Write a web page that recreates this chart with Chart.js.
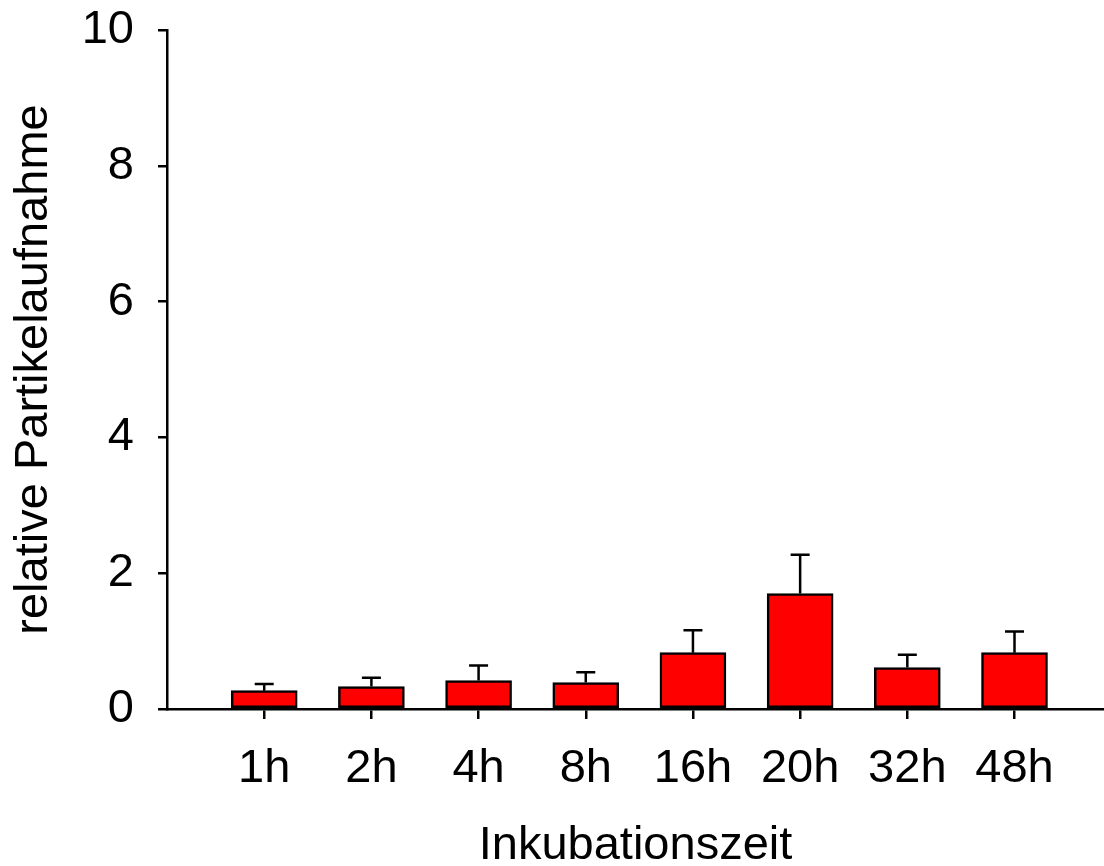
<!DOCTYPE html>
<html lang="de">
<head>
<meta charset="UTF-8">
<title>Partikelaufnahme</title>
<script src="https://cdn.jsdelivr.net/npm/chart.js@4.4.0/dist/chart.umd.min.js"></script>
<style>
  body { margin: 0; background: #fff; }
  canvas { display: block; }
</style>
</head>
<body>
<canvas id="myChart" width="1104" height="866"></canvas>
<script>
// data
const labels = ['1h', '2h', '4h', '8h', '16h', '20h', '32h', '48h'];
const means = [0.27, 0.33, 0.42, 0.39, 0.83, 1.70, 0.61, 0.83];
const errUp = [0.10, 0.13, 0.22, 0.15, 0.33, 0.57, 0.19, 0.31];
const yTicks = [0, 2, 4, 6, 8, 10];

const fontFam = "'Liberation Sans', Arial, sans-serif";

// error bars (upper only), drawn through the chart's scales
const errorBars = {
  id: 'errorBars',
  afterDatasetsDraw(chart) {
    const ctx = chart.ctx;
    const x = chart.scales.x, y = chart.scales.y;
    ctx.save();
    ctx.strokeStyle = '#000';
    ctx.lineWidth = 2.5;
    means.forEach((m, i) => {
      const px = x.getPixelForValue(i + 1);
      const y0 = y.getPixelForValue(m);
      const y1 = y.getPixelForValue(m + errUp[i]);
      ctx.beginPath();
      ctx.moveTo(px, y0);
      ctx.lineTo(px, y1);
      ctx.moveTo(px - 9.5, y1);
      ctx.lineTo(px + 9.5, y1);
      ctx.stroke();
    });
    ctx.restore();
  }
};

const ctx = document.getElementById('myChart').getContext('2d');
new Chart(ctx, {
  type: 'bar',
  data: {
    datasets: [{
      data: means.map((m, i) => ({ x: i + 1, y: m })),
      backgroundColor: '#ff0000',
      borderColor: '#000',
      borderWidth: 2.5,
      borderSkipped: false,
      barThickness: 66
    }]
  },
  options: {
    responsive: false,
    animation: false,
    events: [],
    layout: { autoPadding: false, padding: { top: 30, right: 0, left: 0, bottom: 0 } },
    plugins: { legend: { display: false }, tooltip: { enabled: false } },
    scales: {
      x: {
        type: 'linear',
        offset: false,
        min: 0.093,
        max: 8.835,
        afterBuildTicks: (s) => { s.ticks = labels.map((l, i) => ({ value: i + 1 })); },
        afterFit: (s) => { s.height = 157; },
        ticks: {
          callback: (v, i) => labels[i],
          color: '#000',
          padding: 22,
          maxRotation: 0,
          autoSkip: false,
          font: { family: fontFam, size: 47 }
        },
        grid: { offset: false, drawOnChartArea: false, drawTicks: true, tickLength: 10, color: '#000', lineWidth: 2.5 },
        border: { display: true, color: '#000', width: 2.5 },
        title: {
          display: true,
          text: 'Inkubationszeit',
          color: '#000',
          font: { family: fontFam, size: 47, lineHeight: 0.8 },
          padding: { top: 0, bottom: 1 }
        }
      },
      y: {
        min: 0,
        max: 10,
        afterBuildTicks: (s) => { s.ticks = yTicks.map(v => ({ value: v })); },
        afterFit: (s) => { s.width = 167; s.paddingTop = 0; s.paddingBottom = 0; },
        ticks: {
          color: '#000',
          padding: 24,
          font: { family: fontFam, size: 47, lineHeight: 0.5 }
        },
        grid: { drawOnChartArea: false, drawTicks: true, tickLength: 9, color: '#000', lineWidth: 2.5 },
        border: { display: true, color: '#000', width: 2.5 },
        title: {
          display: true,
          text: 'relative Partikelaufnahme',
          color: '#000',
          font: { family: fontFam, size: 47 },
          padding: { top: 5.5, bottom: 0 }
        }
      }
    }
  },
  plugins: [errorBars]
});
</script>
</body>
</html>
